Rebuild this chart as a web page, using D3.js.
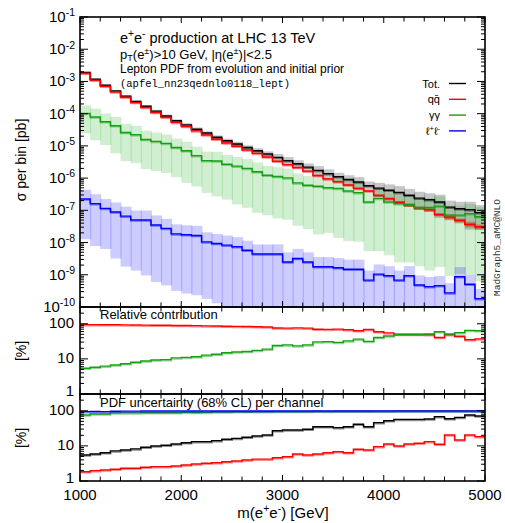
<!DOCTYPE html>
<html><head><meta charset="utf-8">
<script src="https://cdn.jsdelivr.net/npm/d3@7"></script>
<style>
html,body{margin:0;padding:0;background:#fff;}
svg{display:block;}
text{font-family:"Liberation Sans",Arial,Helvetica,sans-serif;fill:#000;}
.mono{font-family:"Liberation Mono","DejaVu Sans Mono",monospace;}
</style></head><body>
<svg id="chart" width="505" height="523"></svg>
<script>
// Bin edges of the dilepton invariant mass [GeV]
const massEdges = [1000,1100,1200,1300,1400,1500,1600,1700,1800,1900,2000,2100,2200,2300,2400,2500,2600,2700,2800,2900,
  3000,3100,3200,3300,3400,3500,3600,3700,3800,3900,4000,4100,4200,4300,4400,4500,4600,4700,4800,4900,5000];

// Cross section per bin [pb]
const sigmaTot = [1.91e-3,1.17e-3,7.6e-4,5.1e-4,3.5e-4,2.4e-4,1.70e-4,1.20e-4,8.5e-5,6.0e-5,
  4.5e-5,3.3e-5,2.5e-5,1.86e-5,1.45e-5,1.15e-5,8.9e-6,7.1e-6,5.6e-6,4.4e-6,
  3.5e-6,2.8e-6,2.2e-6,1.74e-6,1.38e-6,1.10e-6,9.1e-7,7.6e-7,5.8e-7,4.9e-7,
  4.2e-7,3.6e-7,2.95e-7,2.4e-7,2.15e-7,1.82e-7,1.26e-7,1.12e-7,1.05e-7,8.5e-8];
const sigmaQQ = [1.81e-3,1.10e-3,7.13e-4,4.76e-4,3.24e-4,2.21e-4,1.55e-4,1.09e-4,7.7e-5,5.36e-5,
  4.0e-5,2.92e-5,2.18e-5,1.61e-5,1.23e-5,9.7e-6,7.46e-6,5.86e-6,4.54e-6,3.34e-6,
  2.63e-6,2.14e-6,1.65e-6,1.21e-6,9.5e-7,7.8e-7,6.1e-7,4.8e-7,3.97e-7,2.92e-7,
  2.31e-7,1.78e-7,1.46e-7,1.19e-7,1.05e-7,7.4e-8,6.2e-8,4.9e-8,3.7e-8,3.1e-8];
const sigmaAA = [1.02e-4,7.9e-5,5.6e-5,4.2e-5,2.6e-5,2.24e-5,1.58e-5,1.38e-5,1.20e-5,8.9e-6,
  7.1e-6,5.0e-6,3.5e-6,3.4e-6,2.7e-6,2.35e-6,2.0e-6,1.58e-6,1.23e-6,1.12e-6,
  1.02e-6,7.1e-7,6.0e-7,5.6e-7,5.0e-7,4.8e-7,4.0e-7,3.55e-7,1.82e-7,2.35e-7,
  1.82e-7,1.62e-7,1.51e-7,1.23e-7,1.23e-7,1.35e-7,7.1e-8,7.1e-8,7.9e-8,6.3e-8];
const sigmaLL = [2.24e-7,1.62e-7,1.15e-7,8.9e-8,6.6e-8,5.0e-8,5.0e-8,3.5e-8,2.75e-8,1.86e-8,
  1.74e-8,1.66e-8,1.05e-8,9.3e-9,8.3e-9,7.4e-9,5.75e-9,4.4e-9,4.4e-9,4.4e-9,
  2.5e-9,3.2e-9,2.5e-9,1.78e-9,1.78e-9,1.66e-9,1.48e-9,1.48e-9,6.8e-10,1.05e-9,
  9.3e-10,6.8e-10,9.3e-10,4.8e-10,4.3e-10,4.6e-10,2.75e-10,8.7e-10,5.1e-10,1.82e-10];

// Relative contribution of each channel to the total [%]
const relQQ = [94.6,94.2,93.8,93.3,92.7,92.0,91.3,90.7,90.5,89.3,89.0,88.5,87.2,86.5,85.0,84.3,83.8,82.5,81.0,76.0,
  75.0,76.5,75.0,69.5,69.0,70.5,67.5,63.5,68.5,59.5,55.0,49.5,49.5,49.5,49.0,40.5,49.0,44.0,35.0,37.0];
const relAA = [5.4,5.8,6.2,6.7,7.3,8.0,8.7,9.3,9.5,10.7,11.0,11.5,12.8,13.5,15.0,15.7,16.2,17.5,19.0,24.0,
  25.0,23.5,25.0,30.5,31.0,29.5,32.5,36.5,31.5,40.5,45.0,50.5,50.5,50.5,51.0,59.5,51.0,56.0,65.0,63.0];

// PDF uncertainty (68% CL) per channel [%]
const uncTot = [5.5,5.9,6.4,7.2,7.6,8.2,9.1,9.9,10.4,11.3,12.3,13.2,13.2,14.1,15.4,16.4,17.6,19.1,20.4,27.0,
  28.3,28.3,29.7,35.2,35.2,33.0,35.2,41.2,35.2,45.8,52.0,57.0,57.0,57.0,58.0,68.0,59.0,65.0,76.0,71.0];
const uncQQ = [1.84,1.97,2.06,2.15,2.3,2.3,2.46,2.56,2.56,2.67,2.86,3.05,3.2,3.3,3.55,3.7,3.96,4.2,4.2,4.6,
  4.9,5.9,5.5,5.9,6.4,6.8,6.4,8.0,7.6,9.5,11.3,9.9,11.3,11.9,13.2,11.1,20.4,14.7,20.4,18.3];
const uncAA = [76,81,81,86,87,87,88,88,88,88,90,89,90,92,92,93.5,94,94.7,94.3,95,
  95,95.3,95.6,96.8,96,97.1,97.2,97,97,97.7,97.8,98.5,98.4,98.5,98.9,98.7,98.7,98.5,98.7,99];
const uncLL = [94.3,95.2,94.5,96.4,97.3,97.3,98.1,98.3,98.3,98.3,98.5,98.6,98.3,98.6,98.7,98.8,98.8,98.9,98.9,99,
  99,99,99,99.1,99.1,99.1,99.1,99.2,99.2,99.2,99.2,99.3,99.3,99.3,99.3,99.3,99.4,99.4,99.4,99.4];

// Axis tick values
const xTickLabels = [1000,2000,3000,4000,5000];
const mainDecades = [-10,-9,-8,-7,-6,-5,-4,-3,-2,-1];
const ratioTickLabels = [1,10,100];

const channels = [
  {name:"tot", line:"#000000", band:"rgba(0,0,0,0.22)",     sigma:sigmaTot, unc:uncTot},
  {name:"qq",  line:"#ff0000", band:"rgba(255,0,0,0.35)",   sigma:sigmaQQ,  unc:uncQQ, rel:relQQ},
  {name:"aa",  line:"#14a014", band:"rgba(20,170,20,0.2)",  sigma:sigmaAA,  unc:uncAA, rel:relAA},
  {name:"ll",  line:"#0000ff", band:"rgba(0,0,255,0.2)",    sigma:sigmaLL,  unc:uncLL}
];

const svg = d3.select("#chart");
const X0 = 80, X1 = 485;
const x = d3.scaleLinear().domain([1000,5000]).range([X0,X1]);
const yMain = d3.scaleLog().domain([1e-10,1e-1]).range([307,17]);
const yRel  = d3.scaleLog().domain([1,300]).range([394,307]);
const yUnc  = d3.scaleLog().domain([1,300]).range([481,394]);
const panels = [
  {id:"main", y:yMain, top:17,  bottom:307},
  {id:"rel",  y:yRel,  top:307, bottom:394},
  {id:"unc",  y:yUnc,  top:394, bottom:481}
];

const defs = svg.append("defs");
panels.forEach(p => {
  defs.append("clipPath").attr("id","clip-"+p.id)
    .append("rect").attr("x",X0).attr("y",p.top).attr("width",X1-X0).attr("height",p.bottom-p.top);
});

function stepPath(vals, y, lo){
  let d = "";
  vals.forEach((v,i) => {
    const yy = y(Math.max(v, lo));
    const xa = x(massEdges[i]), xb = x(massEdges[i+1]);
    d += (i === 0 ? `M${xa},${yy}` : `V${yy}`) + `H${xb}`;
  });
  return d;
}

function drawLine(g, vals, y, color, lo){
  const d = stepPath(vals, y, lo);
  g.append("path").attr("d",d).attr("fill","none")
    .attr("stroke",color).attr("stroke-opacity",0.45).attr("stroke-width",1.4)
    .attr("transform","translate(0.4,1.1)");
  g.append("path").attr("d",d).attr("fill","none")
    .attr("stroke",color).attr("stroke-width",1.4);
}

// ---------- main panel: cross sections with PDF bands ----------
const gMain = svg.append("g").attr("clip-path","url(#clip-main)");
channels.forEach(c => {
  gMain.append("g").selectAll("rect").data(c.sigma).join("rect")
    .attr("x",(v,i) => x(massEdges[i]))
    .attr("width",(v,i) => x(massEdges[i+1]) - x(massEdges[i]) + 1)
    .attr("y",(v,i) => yMain(v*(1 + c.unc[i]/100)))
    .attr("height",(v,i) => yMain(Math.max(v*(1 - c.unc[i]/100), 1e-13)) - yMain(v*(1 + c.unc[i]/100)))
    .attr("fill",c.band);
});
channels.forEach(c => drawLine(gMain, c.sigma, yMain, c.line, 1e-13));

// ---------- relative contribution ----------
const gRel = svg.append("g").attr("clip-path","url(#clip-rel)");
channels.filter(c => c.rel).forEach(c => drawLine(gRel, c.rel, yRel, c.line, 0.1));

// ---------- PDF uncertainty per channel ----------
const gUnc = svg.append("g").attr("clip-path","url(#clip-unc)");
[channels[2], channels[3], channels[0], channels[1]].forEach(c => drawLine(gUnc, c.unc, yUnc, c.line, 0.1));

// ---------- frames and ticks ----------
const gAx = svg.append("g");
const xMinor = d3.range(1000, 5001, 200);
panels.forEach(p => {
  gAx.append("rect").attr("x",X0).attr("y",p.top).attr("width",X1-X0).attr("height",p.bottom-p.top)
    .attr("fill","none").attr("stroke","#000").attr("stroke-width",1.6);
  xMinor.forEach(m => {
    const len = (m % 1000 === 0) ? 6 : 4.5;
    gAx.append("line").attr("x1",x(m)).attr("x2",x(m)).attr("y1",p.bottom).attr("y2",p.bottom-len)
      .attr("stroke","#000").attr("stroke-width",1);
    gAx.append("line").attr("x1",x(m)).attr("x2",x(m)).attr("y1",p.top).attr("y2",p.top+len)
      .attr("stroke","#000").attr("stroke-width",1);
  });
});

function yTicks(y, lo, hi){
  const out = [];
  for (let e = Math.floor(Math.log10(lo)); e <= Math.ceil(Math.log10(hi)); e++) {
    for (let k = 1; k <= 9; k++) {
      const v = k * Math.pow(10, e);
      if (v >= lo*0.999 && v <= hi*1.001) out.push({v, major:k===1});
    }
  }
  out.forEach(t => {
    const yy = y(t.v), len = t.major ? 8 : 4;
    gAx.append("line").attr("x1",X0).attr("x2",X0+len).attr("y1",yy).attr("y2",yy).attr("stroke","#000").attr("stroke-width",1);
    gAx.append("line").attr("x1",X1).attr("x2",X1-len).attr("y1",yy).attr("y2",yy).attr("stroke","#000").attr("stroke-width",1);
  });
}
yTicks(yMain, 1e-10, 1e-1);
yTicks(yRel, 1, 300);
yTicks(yUnc, 1, 300);

// rich text with super/subscripts: parts = [[text, kind]]
function rich(sel, parts, fs){
  let shift = 0;
  parts.forEach(([t, kind]) => {
    const target = kind === "sup" ? -fs*0.38 : kind === "sub" ? fs*0.15 : 0;
    sel.append("tspan").attr("dy", target - shift)
      .style("font-size", kind ? (fs*0.7)+"px" : fs+"px").text(t);
    shift = target;
  });
  return sel;
}

// y tick labels
mainDecades.forEach(e => {
  const t = gAx.append("text").attr("x",75).attr("y",yMain(Math.pow(10,e))+5).attr("text-anchor","end");
  rich(t, [["10",null],[String(e),"sup"]], 15);
});
[yRel, yUnc].forEach(y => {
  ratioTickLabels.forEach(v => {
    gAx.append("text").attr("x",74).attr("y",y(v)+(v === 1 ? 2 : 4.5)).attr("text-anchor","end")
      .style("font-size","15px").text(v);
  });
});
// x tick labels
xTickLabels.forEach(v => {
  gAx.append("text").attr("x",x(v)).attr("y",500).attr("text-anchor","middle")
    .style("font-size","15px").text(v);
});

// axis titles
rich(gAx.append("text").attr("x",283).attr("y",518).attr("text-anchor","middle"),
  [["m(e",null],["+","sup"],["e",null],["-","sup"],[") [GeV]",null]], 15);
gAx.append("text").attr("transform","translate(26,160) rotate(-90)").attr("text-anchor","middle")
  .style("font-size","14px").text("σ per bin [pb]");
gAx.append("text").attr("transform","translate(26,351) rotate(-90)").attr("text-anchor","middle")
  .style("font-size","14px").text("[%]");
gAx.append("text").attr("transform","translate(26,438) rotate(-90)").attr("text-anchor","middle")
  .style("font-size","14px").text("[%]");

// panel captions
gAx.append("text").attr("x",100).attr("y",319).style("font-size","13px").text("Relative contribution");
gAx.append("text").attr("x",100).attr("y",407).style("font-size","13px").text("PDF uncertainty (68% CL) per channel");

// header text
rich(gAx.append("text").attr("x",120).attr("y",43),
  [["e",null],["+","sup"],["e",null],["-","sup"],[" production at LHC 13 TeV",null]], 14.5);
rich(gAx.append("text").attr("x",120).attr("y",59),
  [["p",null],["T","sub"],["(e",null],["±","sup"],[")>10 GeV, |η(e",null],["±","sup"],[")|<2.5",null]], 13);
gAx.append("text").attr("x",120).attr("y",72.5).style("font-size","12px")
  .text("Lepton PDF from evolution and initial prior");
gAx.append("text").attr("class","mono").attr("x",120).attr("y",86.5).style("font-size","10.5px")
  .text("(apfel_nn23qednlo0118_lept)");

// generator tag
gAx.append("text").attr("class","mono").attr("transform","translate(500,296) rotate(-90)")
  .style("font-size","9.5px").style("fill","#333").text("MadGraph5_aMC@NLO");

// legend
const legend = [
  {label:[["Tot.",null]], c:channels[0]},
  {label:[["qq̄",null]], c:channels[1]},
  {label:[["γγ",null]], c:channels[2]},
  {label:[["ℓ",null],["+","sup"],["ℓ",null],["-","sup"]], c:channels[3]}
];
legend.forEach((l,i) => {
  const yy = 83.5 + i*15.8;
  rich(gAx.append("text").attr("x",440).attr("y",yy+4).attr("text-anchor","end"), l.label, 11);
  gAx.append("line").attr("x1",449).attr("x2",466).attr("y1",yy).attr("y2",yy)
    .attr("stroke",l.c.line).attr("stroke-width",1.4);
});
</script>
</body></html>
